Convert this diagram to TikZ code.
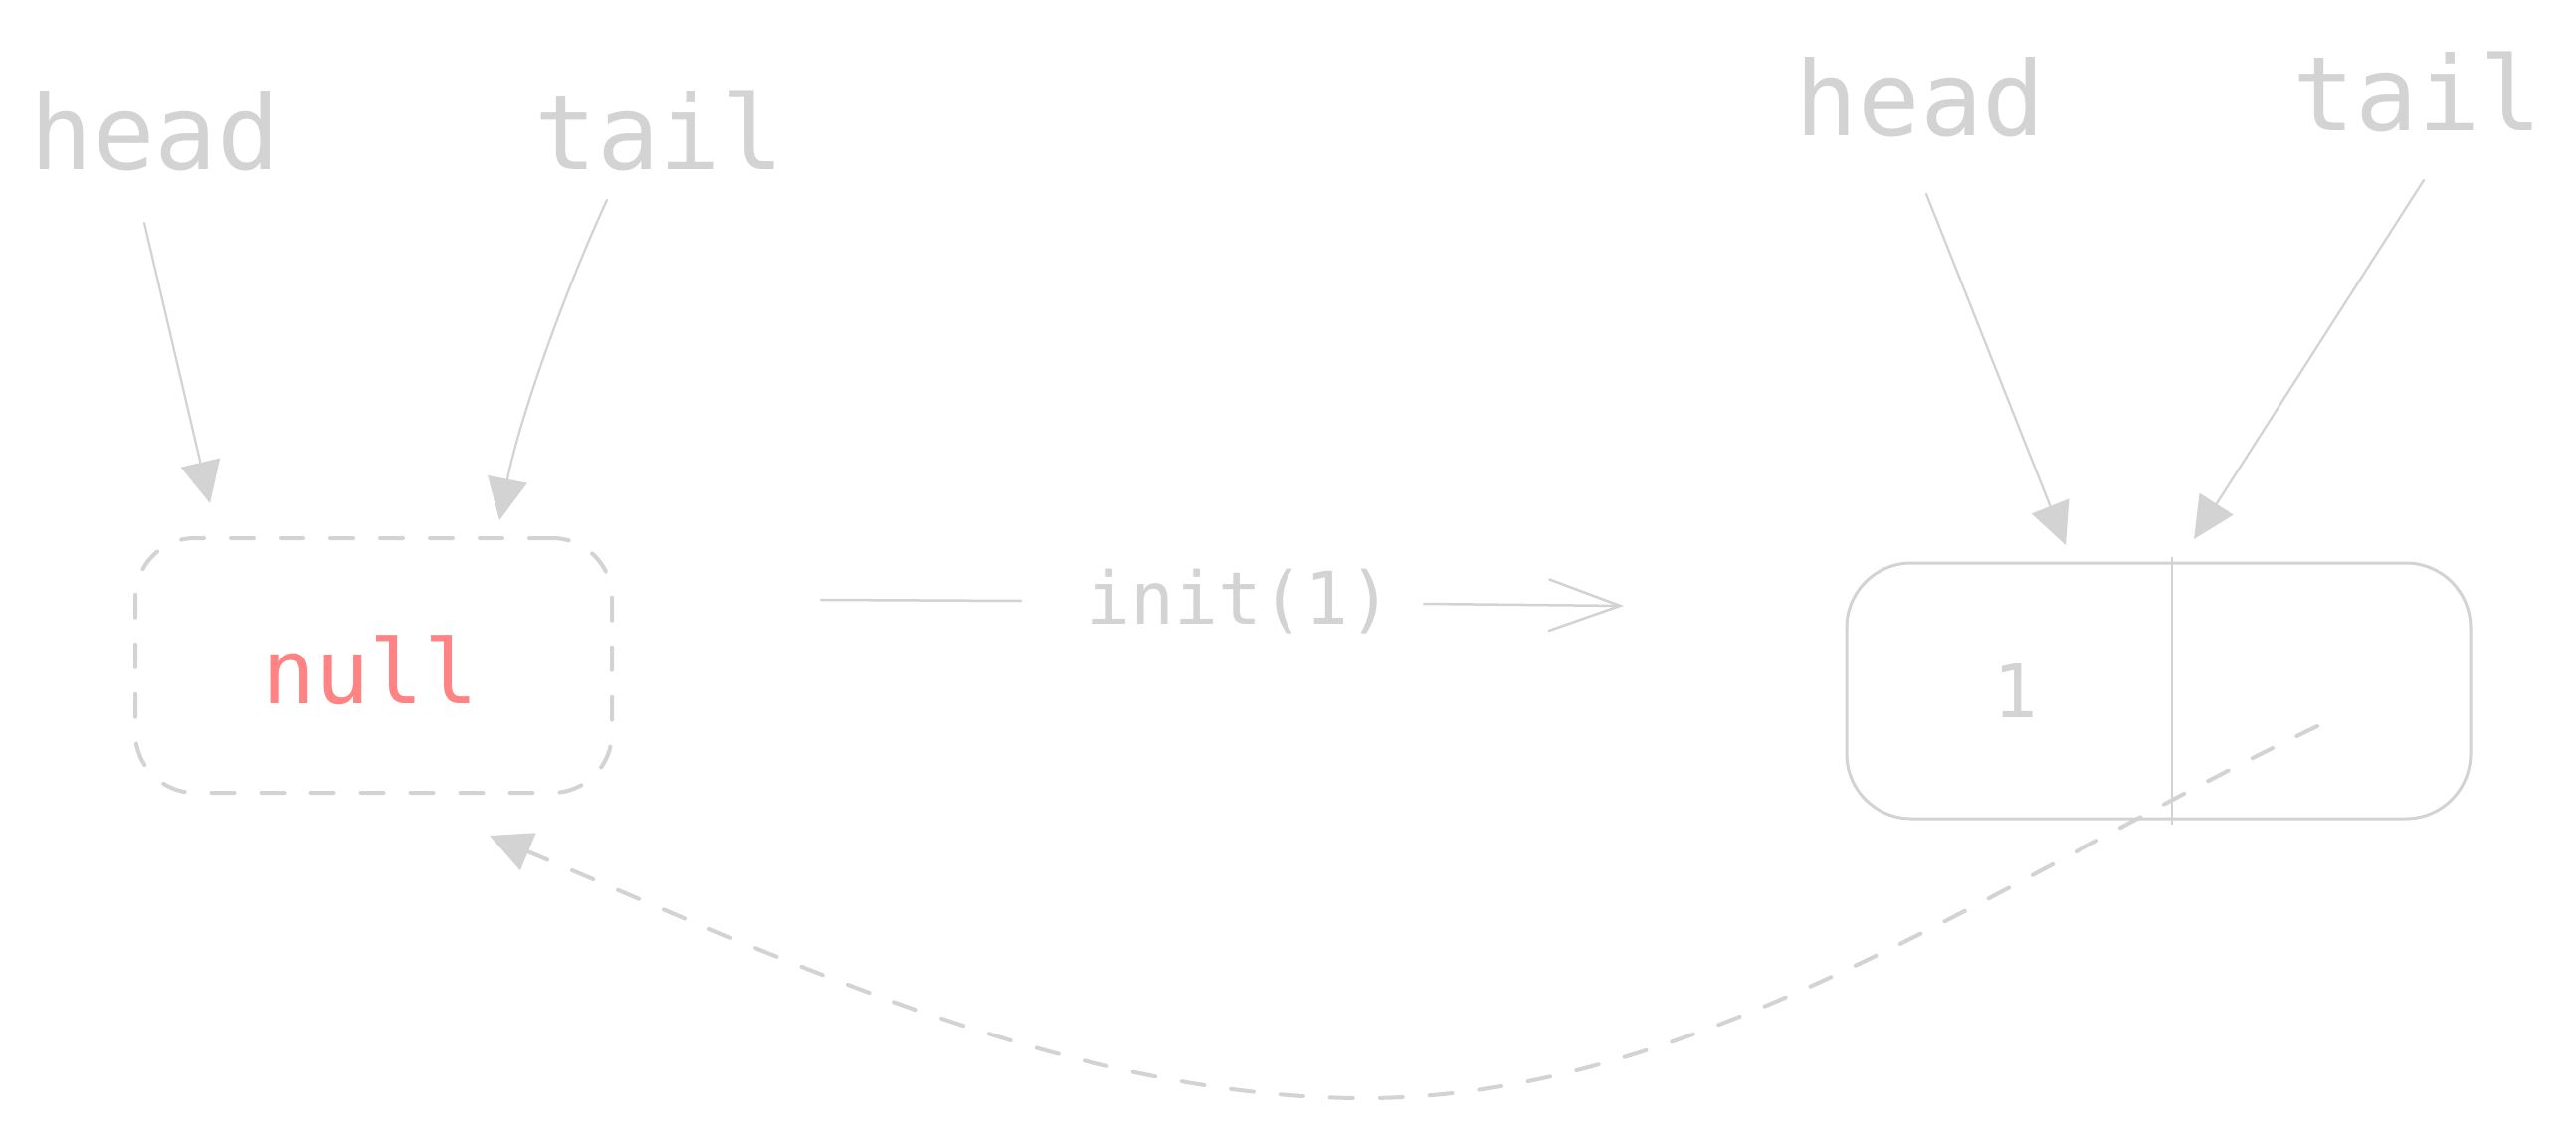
\documentclass[tikz,border=0pt]{standalone}
\usepackage{fontspec}
\newfontfamily\codefont{DejaVu Sans Mono}
\usetikzlibrary{arrows.meta}
\definecolor{inkgray}{HTML}{D3D3D3}
\definecolor{nullred}{HTML}{FF8383}
\begin{document}
\begin{tikzpicture}[x=1pt,y=-1pt,
  labeltext/.style={font=\codefont\fontsize{104}{110}\selectfont, text=inkgray, anchor=base, inner sep=0pt},
  ptr/.style={draw=inkgray, line width=2.2pt, line cap=round, -{Triangle[length=42pt,width=40pt]}},
  dashline/.style={draw=inkgray, line width=4pt, line cap=round, dash pattern=on 23pt off 27pt},
  cellbox/.style={draw=inkgray, line width=3pt, rounded corners=65pt, minimum width=627pt, minimum height=257pt, inner sep=0pt},
  thinline/.style={draw=inkgray, line width=2.5pt, line cap=round}
]
\fill[white] (0,0) rectangle (2589,1134);
\useasboundingbox (0,0) rectangle (2589,1134);

% left state
\node[labeltext] (headL) at (156,171) {head};
\node[labeltext] (tailL) at (663,171) {tail};
\node[dashline, rounded corners=60pt, minimum width=479pt, minimum height=256pt, inner sep=0pt] (nullbox) at (375.5,669) {};
\node[font=\codefont\fontsize{90}{96}\selectfont, text=nullred, anchor=base, inner sep=0pt] (nulltxt) at (372,707) {null};

\coordinate (hLs) at (145,224);
\coordinate (hLe) at (211,506);
\coordinate (tLs) at (610,201);
\coordinate (tLe) at (502,523);
\draw[ptr] (hLs) -- (hLe);
\draw[ptr] (tLs) .. controls (562,305) and (520,430) .. (tLe);

% transition
\node[font=\codefont\fontsize{73}{80}\selectfont, text=inkgray, anchor=base, inner sep=0pt] (init) at (1246,627) {init(1)};
\coordinate (iLa) at (825,603);
\coordinate (iLb) at (1026,604);
\coordinate (iRa) at (1431,607);
\coordinate (iRb) at (1632,609);
\draw[thinline] (iLa) -- (iLb);
\draw[thinline, -{Straight Barb[length=72pt,width=52pt]}] (iRa) -- (iRb);

% right state
\node[labeltext] (headR) at (1930,137) {head};
\node[labeltext] (tailR) at (2430,132) {tail};
\node[cellbox] (cell) at (2169.5,694.5) {};
\coordinate (divTop) at (2183,560);
\coordinate (divBot) at (2183,829);
\draw[draw=inkgray, line width=2.5pt] (divTop) -- (divBot);
\node[font=\codefont\fontsize{74}{80}\selectfont, text=inkgray, anchor=base, inner sep=0pt] (one) at (2026,721) {1};

\coordinate (hRs) at (1936,195);
\coordinate (hRe) at (2076,548);
\coordinate (tRs) at (2436,181);
\coordinate (tRe) at (2205,542);
\draw[ptr] (hRs) -- (hRe);
\draw[ptr] (tRs) -- (tRe);

% next pointer back to null
\coordinate (nxt) at (2329,730);
\coordinate (low) at (1371,1104);
\coordinate (back) at (492,840);
\draw[dashline, -{Triangle[length=42pt,width=40pt]}] (nxt) .. controls (2023,876) and (1711,1104) .. (low) .. controls (1071,1104) and (769,956) .. (back);
\end{tikzpicture}
\end{document}
